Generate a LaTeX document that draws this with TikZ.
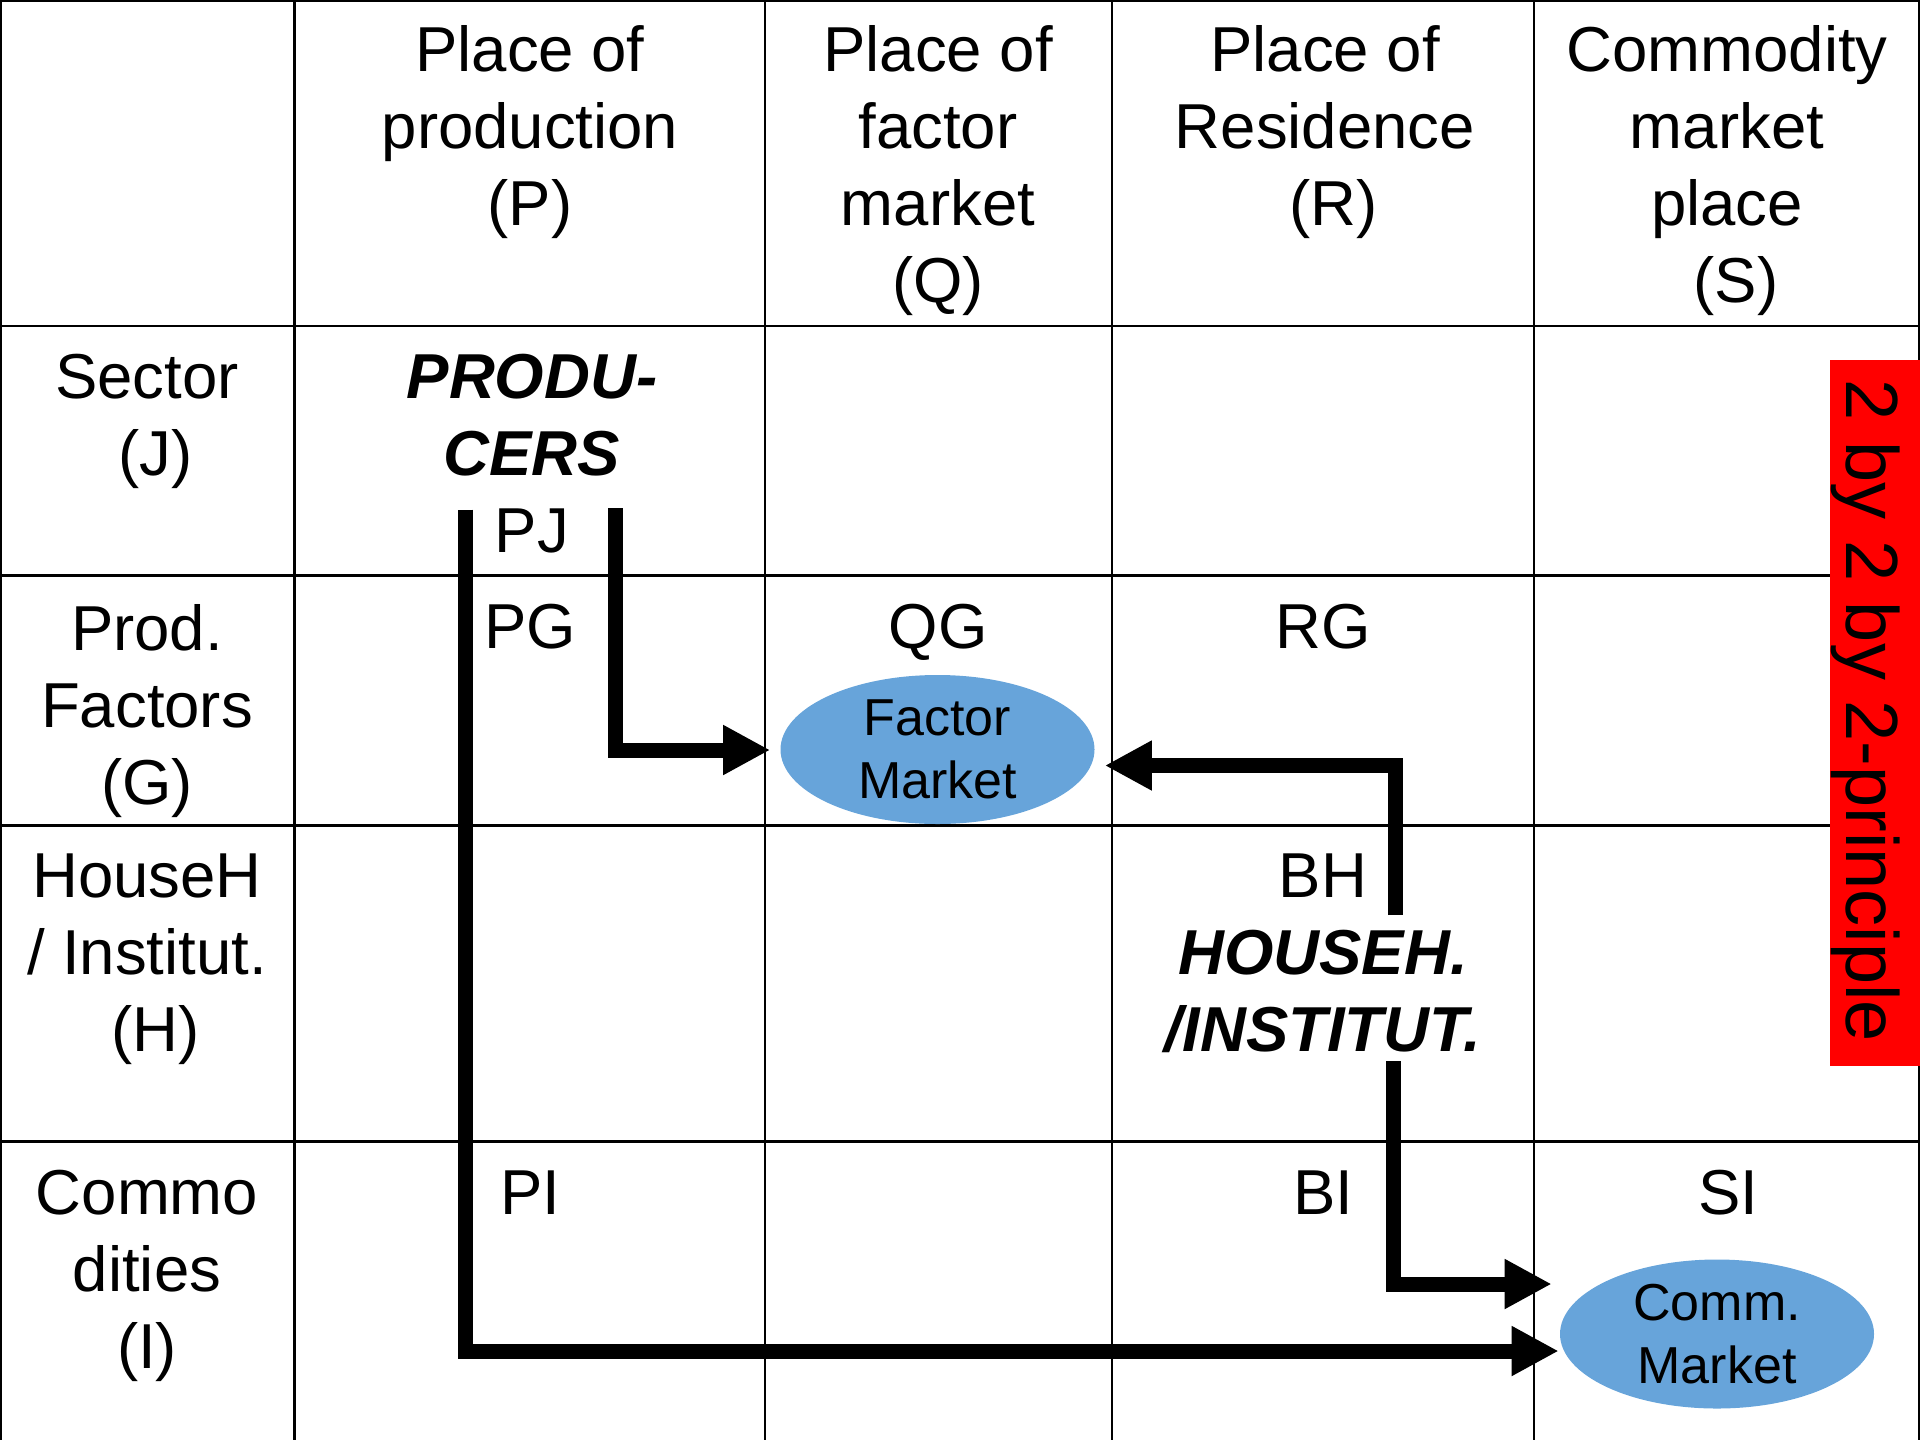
\documentclass[tikz,border=0pt]{standalone}
\usepackage{fontspec}
\setmainfont{Liberation Sans}
\usetikzlibrary{shapes.geometric,arrows.meta,calc}

\definecolor{mktblue}{RGB}{103,164,218}
\definecolor{tagred}{RGB}{255,0,0}

% a leading word space that stays at the start of a centred line
\newcommand{\lead}{\hspace*{0.278em}}

\begin{document}
\begin{tikzpicture}[
  x=0.5pt, y=-0.5pt,
  gridline/.style={line width=1.4pt, black},
  cell/.style={anchor=north, inner sep=0pt, align=center,
               font=\fontsize{31.75pt}{38.5pt}\selectfont},
  market/.style={ellipse, fill=mktblue, draw=none, inner sep=0pt,
                 minimum width=157pt, minimum height=74.5pt, align=center,
                 font=\fontsize{26pt}{31.5pt}\selectfont},
  flow/.style={line width=7.5pt, black,
               -{Triangle[length=23.5pt,width=23.5pt]}},
]
\useasboundingbox (0,0) rectangle (1920,1440);

% table rules
\draw[gridline] (0.7,1440) -- (0.7,0.7) -- (1919.3,0.7) -- (1919.3,1440);
\foreach \yy in {326,575.5,825.5,1141.5}
  \draw[gridline] (0,\yy) -- (1920,\yy);
\foreach \xx in {294.5,765,1112,1534}
  \draw[gridline] (\xx,0) -- (\xx,1440);

% column headers
\node[cell] (hP) at (530,25)  {Place of\\production\\(P)};
\node[cell] (hQ) at (938,25)  {Place of\\factor\\market\\(Q)};
\node[cell] (hR) at (1325,25) {Place of\\Residence\\\lead(R)};
\node[cell] (hS) at (1727,25) {Commodity\\market\\place\\\lead(S)};

% row headers
\node[cell] (rJ) at (147,353.5) {Sector\\\lead(J)};
\node[cell] (rG) at (147,604)   {Prod.\\Factors\\(G)};
\node[cell] (rH) at (147,853)   {HouseH\\/ Institut.\\\lead(H)};
\node[cell] (rI) at (147,1170)  {Commo\\dities\\(I)};

% cell entries
\node[cell] (prod) at (532,353.5) {\textbf{\textit{PRODU-}}\\\textbf{\textit{CERS}}\\PJ};
\node[cell] (pg) at (530,604)  {PG};
\node[cell] (qg) at (938,604)  {QG};
\node[cell] (rg) at (1323,604) {RG};
\node[cell] (hh) at (1323,853) {BH\\\textbf{\textit{HOUSEH.}}\\\textbf{\textit{/INSTITUT.}}};
\node[cell] (pi) at (530,1170)  {PI};
\node[cell] (bi) at (1323,1170) {BI};
\node[cell] (si) at (1728,1170) {SI};

% markets
\node[market] (fm) at (937.5,749.5) {Factor\\Market};
\node[market] (cm) at (1717,1334)   {Comm.\\Market};

% side tag
\fill[tagred] (1830,360) rectangle (1920,1066);
\node[anchor=base, rotate=-90, inner sep=0pt,
      font=\fontsize{37pt}{44pt}\selectfont] (tag) at (1846.5,711)
      {2 by 2 by 2-principle};

% flows
\coordinate (pjL) at (465.5,509.5);
\coordinate (pjR) at (615.5,508);
\coordinate (bhTop) at (1395,915);
\coordinate (hiBot) at (1393,1061);

\draw[flow] (pjR) |- ($(fm.west)+(-10,0.5)$);
\draw[flow] (pjL) |- ($(cm.west)+(-1,17)$);
\draw[flow] (bhTop) |- ($(fm.east)+(10,16)$);
\draw[flow] (hiBot) |- ($(cm.west)+(-8,-50)$);
\end{tikzpicture}
\end{document}
